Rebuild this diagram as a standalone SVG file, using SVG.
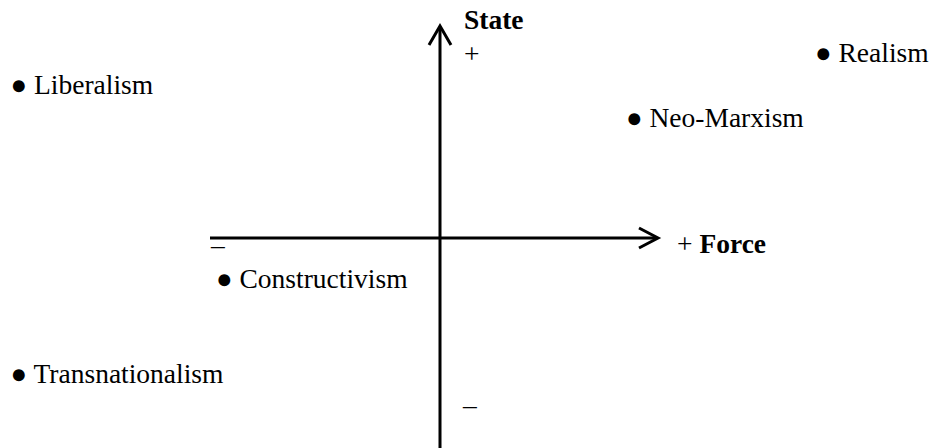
<svg xmlns="http://www.w3.org/2000/svg" width="930" height="448" viewBox="0 0 930 448">
<style>
text{font-family:"Liberation Serif","Times New Roman",serif;font-size:27.5px;fill:#000}
.b{font-weight:bold}
.ax{stroke:#000;stroke-width:3;fill:none}
</style>
<rect width="930" height="448" fill="#fff"/>
<g id="connectors">
<line class="ax" x1="440" y1="448" x2="440" y2="28"/>
<polyline class="ax" points="429,45 440,26 451,45"/>
<line class="ax" x1="210" y1="238" x2="656" y2="238"/>
<polyline class="ax" points="639,228 658,238 639,248"/>
</g>
<g id="axis-labels">
<text class="b" x="464" y="29">State</text>
<text x="464" y="63">+</text>
<text x="677" y="253">+ <tspan class="b">Force</tspan></text>
<text x="211" y="254">–</text>
<text x="463" y="414">–</text>
</g>
<g id="liberalism"><text x="10.5" y="94">● Liberalism</text></g>
<g id="realism"><text x="815" y="62">● Realism</text></g>
<g id="neo-marxism"><text x="626" y="127">● Neo-Marxism</text></g>
<g id="constructivism"><text x="216" y="288">● Constructivism</text></g>
<g id="transnationalism"><text x="10.5" y="383">● Transnationalism</text></g>
</svg>
